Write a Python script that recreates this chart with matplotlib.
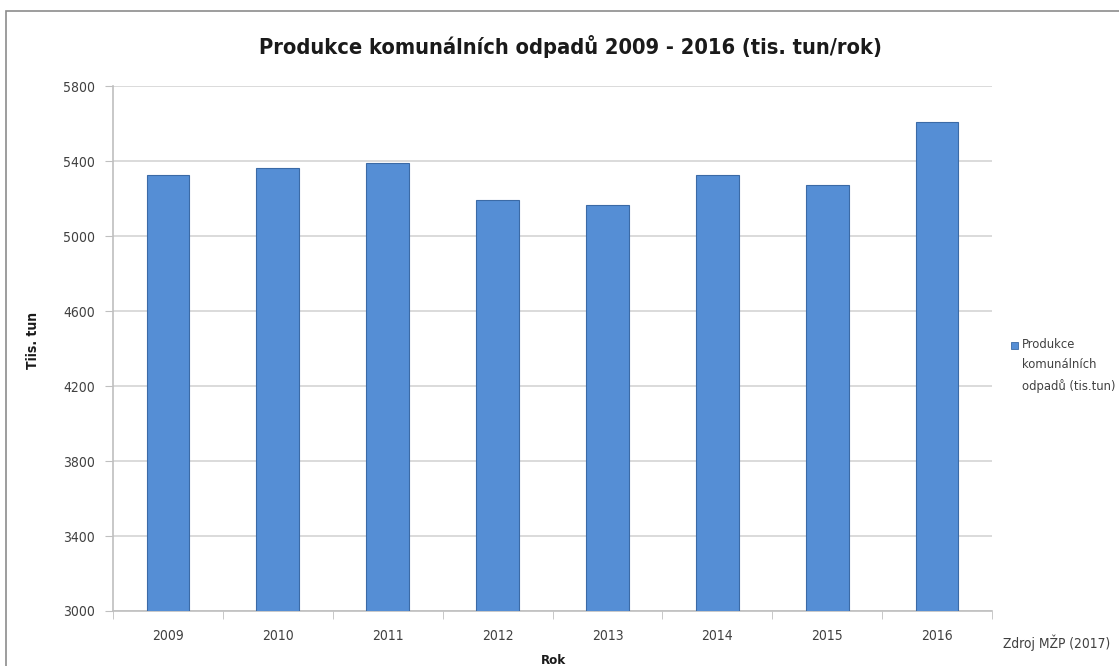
import matplotlib.pyplot as plt
import numpy as np
from matplotlib.patches import Rectangle

years = ['2009', '2010', '2011', '2012', '2013', '2014', '2015', '2016']
odpady = [5324, 5362, 5388, 5193, 5168, 5324, 5272, 5611]

plt.rcParams['font.family'] = ['DejaVu Sans']
plt.rcParams['font.stretch'] = 'condensed'

BAR = '#558ed5'
TXT = '#404040'

fig = plt.figure(figsize=(11.19, 6.66), dpi=100)
ax = fig.add_axes([0.101, 0.0826, 0.7855, 0.788])

# ramecek kolem grafu
fig.patches.append(Rectangle((6 / 1119, -0.1), 1.2, 1 - 11 / 666 + 0.1,
                             transform=fig.transFigure, fill=False,
                             edgecolor='#8c8c8c', linewidth=1.2))

ind = np.arange(len(years))
ax.bar(ind, odpady, 0.39, color=BAR, edgecolor='#3b6aa6', linewidth=0.8, zorder=3)

ax.set_ylim(3000, 5800)
ax.set_yticks(np.arange(3000, 5801, 400))
ax.set_xlim(-0.5, len(years) - 0.5)
ax.set_xticks(ind)
ax.set_xticklabels(years)
ax.set_xticks(np.arange(-0.5, len(years), 1), minor=True)
ax.grid(axis='y', color='#d4d4d4', linewidth=1.2, zorder=0)

for s in ['top', 'right']:
    ax.spines[s].set_visible(False)
for s in ['left', 'bottom']:
    ax.spines[s].set_color('#bfbfbf')
    ax.spines[s].set_linewidth(1.2)

ax.tick_params(axis='y', length=6, color='#bfbfbf', labelsize=10,
               labelcolor=TXT, pad=7)
ax.tick_params(axis='x', which='major', length=0, labelsize=10,
               labelcolor=TXT, pad=13)
ax.tick_params(axis='x', which='minor', length=6, color='#bfbfbf')

# popisky os
fig.text(33 / 1119, 1 - 340 / 666, 'Tiis. tun', rotation=90, ha='center',
         va='center', fontsize=10, fontweight='bold', color='#1a1a1a')
fig.text(553 / 1119, 1 - 660 / 666, 'Rok', ha='center', va='center',
         fontsize=9.5, fontweight='bold', color='#1a1a1a')

fig.text(570 / 1119, 1 - 47 / 666, 'Produkce komunálních odpadů 2009 - 2016 (tis. tun/rok)',
         ha='center', va='center', fontsize=15.7, fontweight='bold', color='#1a1a1a')

fig.text(1003 / 1119, 1 - 643 / 666, 'Zdroj MŽP (2017)', ha='left', va='center',
         fontsize=9.9, color=TXT)

# legenda
fig.patches.append(Rectangle((1011 / 1119, 1 - 349 / 666), 7 / 1119, 7 / 666,
                             transform=fig.transFigure, facecolor=BAR,
                             edgecolor='#3b6aa6', linewidth=0.6))
fig.text(1022 / 1119, 1 - 338 / 666, 'Produkce\nkomunálních\nodpadů (tis.tun)',
         ha='left', va='top', fontsize=9.3, color=TXT, linespacing=1.72)

fig.savefig('out.png', dpi=100)
